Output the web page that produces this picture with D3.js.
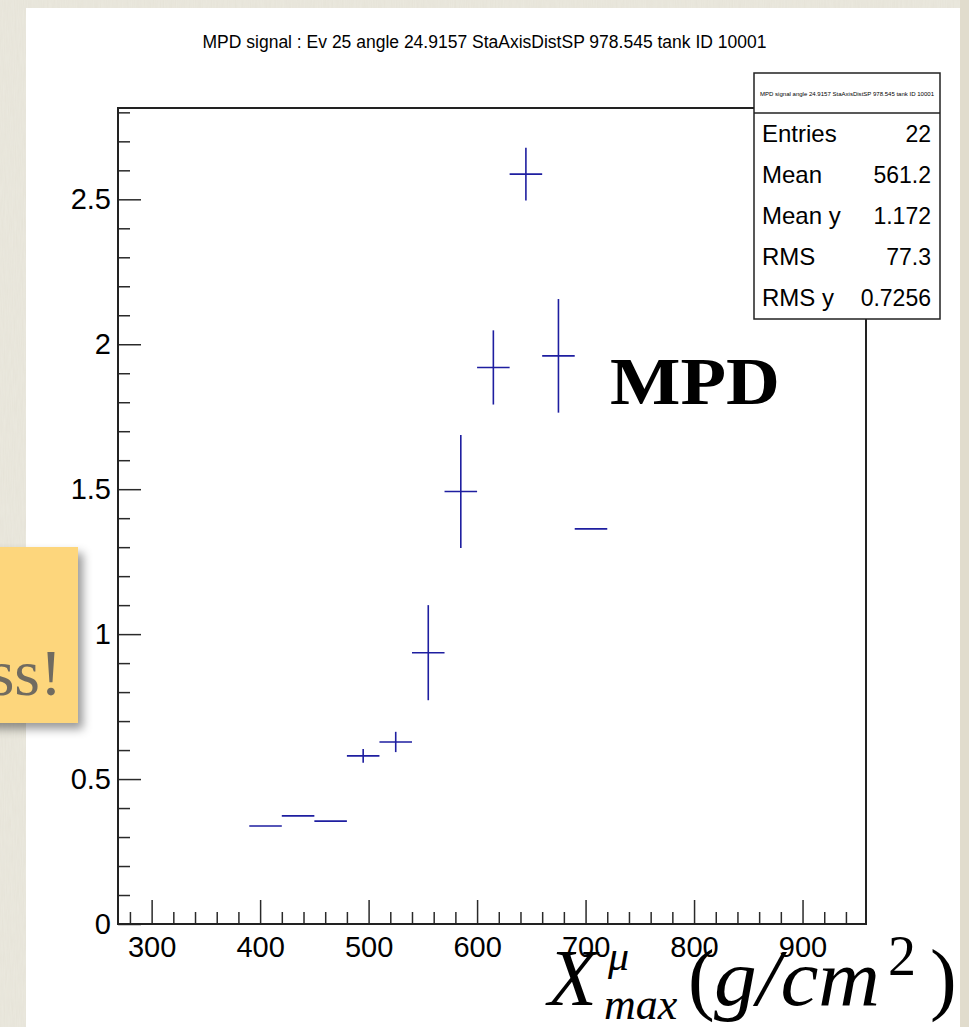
<!DOCTYPE html>
<html>
<head>
<meta charset="utf-8">
<script src="https://d3js.org/d3.v7.min.js"></script>
<style>
  body { margin: 0; background: #ebe9df; }
  svg { display: block; }
  .tick text { font-family: "Liberation Sans", Arial, sans-serif; fill: #000; }
</style>
</head>
<body>
<div id="chart_id"></div>
<script>
// Data: bin centres, contents and errors of the MPD histogram
var bin_centers = [405, 435, 465, 495, 525, 555, 585, 615, 645, 675, 705];
var bin_values  = [0.338, 0.373, 0.355, 0.580, 0.628, 0.936, 1.492, 1.920, 2.587, 1.960, 1.363];
var bin_errors  = [0, 0, 0, 0.024, 0.035, 0.164, 0.195, 0.128, 0.091, 0.196, 0];
var bin_half_width = 15;

var x_major_ticks = [300, 400, 500, 600, 700, 800, 900];
var y_major_ticks = [0, 0.5, 1, 1.5, 2, 2.5];
var y_tick_labels = ["0", "0.5", "1", "1.5", "2", "2.5"];

var stat_names  = ["Entries", "Mean", "Mean y", "RMS", "RMS y"];
var stat_values = ["22", "561.2", "1.172", "77.3", "0.7256"];

var title_text = "MPD signal : Ev 25 angle 24.9157 StaAxisDistSP 978.545 tank ID 10001";
var stats_title = "MPD signal angle 24.9157 StaAxisDistSP 978.545 tank ID 10001";

var width = 969, height = 1027;
var frame = {left: 118, top: 108, right: 866, bottom: 924};
var c_line = "#1e1ea0";

var svg = d3.select("#chart_id").append("svg")
    .attr("width", width)
    .attr("height", height);

var defs = svg.append("defs");

// paper texture behind the canvas
var paper = defs.append("filter").attr("id", "paper_tex")
    .attr("x", 0).attr("y", 0).attr("width", "100%").attr("height", "100%");
paper.append("feTurbulence")
    .attr("type", "fractalNoise")
    .attr("baseFrequency", "0.9 0.06")
    .attr("numOctaves", 2)
    .attr("seed", 3);
paper.append("feColorMatrix")
    .attr("values", "0 0 0 0 0.55  0 0 0 0 0.5  0 0 0 0 0.4  0 0 0 0.14 0");
paper.append("feComposite").attr("in2", "SourceGraphic").attr("operator", "in");

var shadow = defs.append("filter").attr("id", "note_shadow")
    .attr("x", "-20%").attr("y", "-20%").attr("width", "150%").attr("height", "150%");
shadow.append("feDropShadow")
    .attr("dx", 5).attr("dy", 6)
    .attr("stdDeviation", 5)
    .attr("flood-color", "#000")
    .attr("flood-opacity", 0.4);

svg.append("rect")
    .attr("width", width).attr("height", height)
    .attr("fill", "#ebe9df");
svg.append("rect")
    .attr("width", width).attr("height", height)
    .attr("fill", "#ebe9df")
    .attr("filter", "url(#paper_tex)");
svg.append("rect")
    .attr("x", 960).attr("width", 9).attr("height", height)
    .attr("fill", "#e1dccd");

// white ROOT canvas
svg.append("rect")
    .attr("x", 26).attr("y", 8)
    .attr("width", 934).attr("height", height - 8)
    .attr("fill", "#ffffff");

// title
svg.append("text")
    .attr("x", 484.5).attr("y", 48)
    .attr("text-anchor", "middle")
    .style("font-family", "Liberation Sans, Arial, sans-serif")
    .style("font-size", "17.5px")
    .text(title_text);

// scales
var x_scale = d3.scaleLinear()
    .domain([269, 958.5])
    .range([frame.left, frame.right]);

var y_scale = d3.scaleLinear()
    .domain([0, 2.815])
    .range([frame.bottom, frame.top]);

var x_minor = d3.range(280, 958, 20).filter(function(d){ return d % 100 != 0 });
var y_minor = d3.range(1, 29).map(function(d){ return d/10 }).filter(function(d){ return Math.round(d*10) % 5 != 0 });

// y axis (ticks point inside, like ROOT)
var y_axis = svg.append("g")
    .attr("transform", "translate(" + frame.left + ",0)")
    .call(d3.axisLeft(y_scale)
        .tickValues(y_major_ticks)
        .tickFormat(function(d, i){ return y_tick_labels[i] })
        .tickSize(-23).tickSizeOuter(0).tickPadding(7));
y_axis.selectAll("text").style("font-size", "29px");
svg.append("g")
    .attr("transform", "translate(" + frame.left + ",0)")
    .call(d3.axisLeft(y_scale).tickValues(y_minor).tickFormat("").tickSize(-12).tickSizeOuter(0));

// x axis
var x_axis = svg.append("g")
    .attr("transform", "translate(0," + frame.bottom + ")")
    .call(d3.axisBottom(x_scale)
        .tickValues(x_major_ticks)
        .tickFormat(d3.format("d"))
        .tickSize(-24).tickSizeOuter(0).tickPadding(12));
x_axis.selectAll("text").style("font-size", "29px");
svg.append("g")
    .attr("transform", "translate(0," + frame.bottom + ")")
    .call(d3.axisBottom(x_scale).tickValues(x_minor).tickFormat("").tickSize(-12).tickSizeOuter(0));

svg.selectAll(".domain").remove();
svg.selectAll(".tick line").style("stroke", "#2a2a2a").style("stroke-width", 1.5);

// frame
svg.append("rect")
    .attr("x", frame.left).attr("y", frame.top)
    .attr("width", frame.right - frame.left)
    .attr("height", frame.bottom - frame.top)
    .attr("fill", "none")
    .style("stroke", "#222")
    .style("stroke-width", 2);

// histogram points with error bars
var points = svg.selectAll(".pt")
    .data(bin_centers).enter()
    .append("g").attr("class", "pt");

points.append("line")
    .attr("x1", function(d){ return x_scale(d - bin_half_width) })
    .attr("x2", function(d){ return x_scale(d + bin_half_width) })
    .attr("y1", function(d, i){ return y_scale(bin_values[i]) })
    .attr("y2", function(d, i){ return y_scale(bin_values[i]) })
    .style("stroke", c_line).style("stroke-width", 1.6);

points.filter(function(d, i){ return bin_errors[i] > 0 })
  .append("line")
    .attr("x1", function(d){ return x_scale(d) })
    .attr("x2", function(d){ return x_scale(d) })
    .attr("y1", function(d){ var i = bin_centers.indexOf(d); return y_scale(bin_values[i] - bin_errors[i]) })
    .attr("y2", function(d){ var i = bin_centers.indexOf(d); return y_scale(bin_values[i] + bin_errors[i]) })
    .style("stroke", c_line).style("stroke-width", 1.6);

// stats box
var box = {x: 754, y: 73, w: 186, h: 246, head: 40};
svg.append("rect")
    .attr("x", box.x).attr("y", box.y)
    .attr("width", box.w).attr("height", box.h)
    .attr("fill", "#fff")
    .style("stroke", "#222").style("stroke-width", 1.5);
svg.append("line")
    .attr("x1", box.x).attr("x2", box.x + box.w)
    .attr("y1", box.y + box.head).attr("y2", box.y + box.head)
    .style("stroke", "#222").style("stroke-width", 1.5);
svg.append("text")
    .attr("x", box.x + box.w/2).attr("y", box.y + 23)
    .attr("text-anchor", "middle")
    .attr("textLength", 174).attr("lengthAdjust", "spacingAndGlyphs")
    .style("font-family", "Liberation Sans, Arial, sans-serif")
    .style("font-size", "6px")
    .text(stats_title);

var row_y = d3.scaleLinear().domain([0, 4]).range([142, 306]);
svg.selectAll(".stat_name")
    .data(stat_names).enter()
    .append("text")
    .attr("x", box.x + 8)
    .attr("y", function(d, i){ return row_y(i) })
    .style("font-family", "Liberation Sans, Arial, sans-serif")
    .style("font-size", "24px")
    .text(function(d){ return d });
svg.selectAll(".stat_value")
    .data(stat_values).enter()
    .append("text")
    .attr("x", box.x + box.w - 9)
    .attr("y", function(d, i){ return row_y(i) })
    .attr("text-anchor", "end")
    .style("font-family", "Liberation Sans, Arial, sans-serif")
    .style("font-size", "23px")
    .text(function(d){ return d });

// big MPD label
svg.append("text")
    .attr("x", 610).attr("y", 404)
    .attr("textLength", 170).attr("lengthAdjust", "spacingAndGlyphs")
    .style("font-family", "Liberation Serif, Times New Roman, serif")
    .style("font-weight", "bold")
    .style("font-size", "68px")
    .text("MPD");

// x axis title, LaTeX style
var serif = "Liberation Serif, Times New Roman, serif";
function put_text(txt, x, y, size, italic, len){
  var t = svg.append("text")
      .attr("x", x).attr("y", y)
      .style("font-family", serif)
      .style("font-style", italic ? "italic" : "normal")
      .style("font-size", size + "px")
      .text(txt);
  if (len) t.attr("textLength", len).attr("lengthAdjust", "spacingAndGlyphs");
}
put_text("X", 548, 1005, 80, true);
put_text("\u03bc", 608, 970, 42, true);
put_text("max", 604, 1019, 44, true);
put_text("(", 688, 1005, 80, false);
put_text("g/cm", 714, 1005, 80, true, 166);
put_text("2", 888, 975, 56, false);
put_text(")", 930, 1005, 80, false);

// yellow sticky note on the left
svg.append("rect")
    .attr("x", -20).attr("y", 547)
    .attr("width", 98).attr("height", 176)
    .attr("fill", "#fdd67b")
    .attr("filter", "url(#note_shadow)");
svg.append("text")
    .attr("x", 62).attr("y", 695)
    .attr("text-anchor", "end")
    .style("font-family", serif)
    .style("font-size", "66px")
    .style("fill", "#706b60")
    .text("ss!");
</script>
</body>
</html>
